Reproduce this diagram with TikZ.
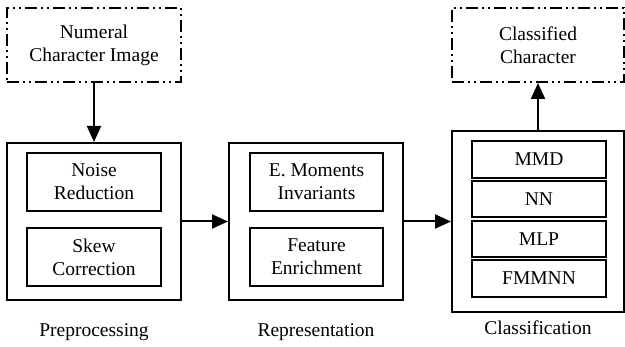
\documentclass[tikz,border=0pt]{standalone}
\usepackage{fontspec}
\setmainfont{Liberation Serif}
\usetikzlibrary{arrows.meta}
\begin{document}
\begin{tikzpicture}[x=1pt,y=-1pt,
  txt/.style={font=\fontsize{19.5}{23}\selectfont, align=center},
  box/.style={draw, line width=2pt, inner sep=0pt, txt},
  dd/.style={box, dash pattern=on 12pt off 4pt on 2pt off 4pt on 2pt off 4pt},
  arr/.style={line width=2pt, -{Triangle[length=16pt,width=14pt]}}]
\useasboundingbox (0,0) rectangle (625,347);
\node[dd, minimum width=174pt, minimum height=74pt] (img) at (94,45) {Numeral\\Character Image};
\node[dd, minimum width=172pt, minimum height=74pt] (out) at (538,45) {Classified\\Character};
\node[box, minimum width=174pt, minimum height=157pt] (pre) at (94,221.5) {};
\node[box, minimum width=134pt, minimum height=58pt] (noise) at (94,182) {Noise\\Reduction};
\node[box, minimum width=134pt, minimum height=58pt] (skew) at (94,257) {Skew\\Correction};
\node[box, minimum width=174pt, minimum height=157pt] (rep) at (316,221.5) {};
\node[box, minimum width=133pt, minimum height=58pt] (em) at (316.5,182) {E. Moments\\Invariants};
\node[box, minimum width=133pt, minimum height=58pt] (fe) at (316.5,257) {Feature\\Enrichment};
\node[box, minimum width=172pt, minimum height=181pt] (cls) at (538,221.5) {};
\node[box, minimum width=134pt, minimum height=37pt] (mmd) at (539,159.5) {MMD};
\node[box, minimum width=134pt, minimum height=36pt] (nn) at (539,199) {NN};
\node[box, minimum width=134pt, minimum height=36pt] (mlp) at (539,239) {MLP};
\node[box, minimum width=134pt, minimum height=37pt] (fmm) at (539,278.5) {FMMNN};
\node[txt] (lpre) at (94,332) {Preprocessing};
\node[txt] (lrep) at (316,332) {Representation};
\node[txt] (lcls) at (538,328) {Classification};
\draw[arr] (img.south) -- (pre.north);
\draw[arr] (pre.east) -- (rep.west);
\draw[arr] (rep.east) -- (cls.west);
\draw[arr] (cls.north) -- (out.south);
\end{tikzpicture}
\end{document}
